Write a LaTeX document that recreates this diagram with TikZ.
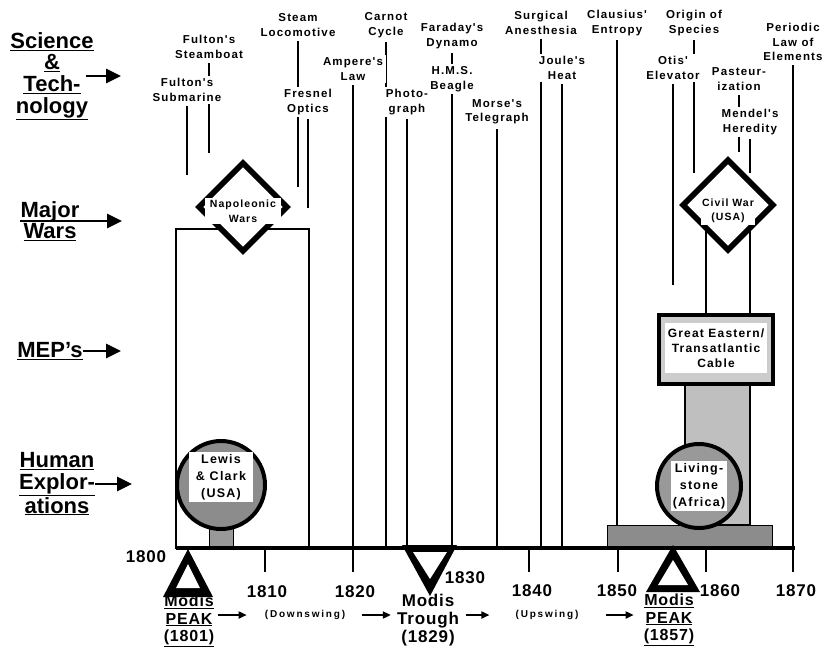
\documentclass[tikz,border=0pt]{standalone}
\usepackage{fontspec}
\setmainfont{Liberation Sans}
\newfontfamily\spfont{Liberation Sans}[LetterSpace=10]
\newfontfamily\yrfont{Liberation Sans}[LetterSpace=5]
\newfontfamily\swfont{Liberation Sans}[LetterSpace=18]
\usetikzlibrary{arrows.meta,backgrounds,shapes.geometric}

\begin{document}
\begin{tikzpicture}[x=1pt, y=-1pt,
		evt/.style={font=\spfont\bfseries\fontsize{11.5}{14.5}\selectfont, align=center, inner sep=2.5pt, fill=white},
		evtline/.style={line width=0.45mm, shorten <=2pt},
		cat/.style={font=\bfseries\fontsize{22}{21.7}\selectfont, align=center, inner sep=0pt},
		catarrow/.style={line width=1mm, -{Triangle[length=15pt,width=14pt]}},
		smarrow/.style={line width=0.6mm, -{Triangle[length=8pt,width=7pt]}},
		yr/.style={font=\yrfont\bfseries\fontsize{17}{17}\selectfont, inner sep=0pt},
		modis/.style={font=\yrfont\bfseries\fontsize{16}{17.5}\selectfont, align=center, inner sep=0pt},
		swing/.style={font=\swfont\bfseries\fontsize{10}{12}\selectfont, inner sep=0pt},
		intxt/.style={font=\spfont\bfseries\fontsize{12.5}{17}\selectfont, align=center, inner sep=2pt, fill=white},
		wartxt/.style={font=\spfont\bfseries\fontsize{10.5}{14.5}\selectfont, align=center, inner sep=1.5pt, fill=white},
		wardiam/.style={diamond, draw, fill=white, line width=2mm, minimum size=90pt, inner sep=0pt},
		yrtick/.style={line width=1mm}
	]
	%%%%% START %%%%%
	\useasboundingbox (0, 0) rectangle (827, 649);
	
	\coordinate (ax0) at (176, 548);
	\coordinate (ax1) at (795, 548);
	
	% events
	\node[evt] (fstb) at (209, 47) {Fulton's\\Steamboat};
	\node[evt] (fsub) at (187, 90) {Fulton's\\Submarine};
	\node[evt] (stml) at (298, 25) {Steam\\Locomotive};
	\node[evt] (fres) at (308, 102) {Fresnel\\Optics};
	\node[evt] (ampr) at (353, 69) {Ampere's\\Law};
	\node[evt] (crnt) at (386, 25) {Carnot\\Cycle};
	\node[evt] (phot) at (407, 102) {Photo-\\graph};
	\node[evt] (fara) at (452, 36) {Faraday's\\Dynamo};
	\node[evt] (bgle) at (452, 79) {H.M.S.\\Beagle};
	\node[evt] (mors) at (497, 112) {Morse's\\Telegraph};
	\node[evt] (surg) at (541, 23) {Surgical\\Anesthesia};
	\node[evt] (joul) at (562, 68) {Joule's\\Heat};
	\node[evt] (clau) at (617, 23) {Clausius'\\Entropy};
	\node[evt] (orig) at (694, 23) {Origin of\\Species};
	\node[evt] (otis) at (673, 68) {Otis'\\Elevator};
	\node[evt] (past) at (739, 79) {Pasteur-\\ization};
	\node[evt] (mend) at (750, 122) {Mendel's\\Heredity};
	\node[evt] (perd) at (793, 42) {Periodic\\Law of\\Elements};
	
	\coordinate (fsubE) at (187, 175);
	\coordinate (fstbE) at (209, 153);
	\coordinate (stmlE) at (298, 187);
	\coordinate (fresE) at (308, 208);
	\coordinate (origE) at (694, 173);
	\coordinate (otisE) at (673, 285);
	\coordinate (pastE) at (739, 152);
	\coordinate (mendE) at (750, 173);
	
	\begin{scope}[on background layer]
		\draw[evtline] (fstb.south) -- (fstbE);
		\draw[evtline] (fsub.south) -- (fsubE);
		\draw[evtline] (stml.south) -- (stmlE);
		\draw[evtline] (fres.south) -- (fresE);
		\draw[evtline] (orig.south) -- (origE);
		\draw[evtline] (otis.south) -- (otisE);
		\draw[evtline] (past.south) -- (pastE);
		\draw[evtline] (mend.south) -- (mendE);
		\foreach \ev in {ampr, crnt, phot, fara, mors, surg, joul, clau, perd}
			\draw[evtline] (\ev.south) -- (\ev.south |- ax0);
	\end{scope}
	
	% wars and MEP's
	\draw[line width=0.7mm] (176, 229) rectangle (309, 548);
	\draw[line width=0.7mm] (706, 215) rectangle (750, 315);
	\draw[line width=0.6mm, fill=black!25] (685, 384) rectangle (750, 525);
	\draw[line width=0.3mm, fill=black!45] (607, 525) rectangle (772, 548);
	\draw[line width=0.3mm, fill=black!40] (209, 528) rectangle (233, 548);
	
	\node[draw, line width=1.6mm, fill=black!20, minimum width=114pt, minimum height=69pt] (gebox) at (716, 349.5) {};
	\node[intxt, font=\spfont\bfseries\fontsize{12}{15}\selectfont, minimum width=102pt, minimum height=50pt] (ge) at (716, 348) {Great Eastern/\\Transatlantic\\Cable};
	
	\node[wardiam] (napD) at (243, 207) {};
	\node[wartxt, minimum width=76pt] (nap) at (243, 211) {Napoleonic\\Wars};
	\node[wardiam, minimum size=92pt] (cwD) at (728, 205) {};
	\node[wartxt] (cw) at (728, 211) {Civil War\\(USA)};
	
	% explorations
	\node[draw, circle, line width=1.4mm, fill=black!45, minimum size=88pt] (lcC) at (221, 485) {};
	\node[intxt, minimum width=64pt] (lc) at (221, 477) {Lewis\\\& Clark\\(USA)};
	\node[draw, circle, line width=1.4mm, fill=black!40, minimum size=84pt] (lvC) at (699, 486) {};
	\node[intxt] (lv) at (lvC) {Living-\\stone\\(Africa)};
	
	% time axis
	\draw[line width=1.5mm] (ax0) -- (ax1);
	\foreach \x in {265, 353, 529, 618, 706, 793}
		\draw[yrtick] (\x, 548) -- (\x, 572);
	\foreach \x/\y/\yr in {146/557/1800, 267/592/1810, 355/592/1820, 465/578/1830, 532/591/1840, 617/591/1850, 720/591/1860, 796/591/1870}
		\node[yr] (y\yr) at (\x, \y) {\yr};
	
	% categories
	\node[cat] (sci) at (52, 76) {\underline{Science}\\\underline{\&}\\\underline{Tech-}\\\underline{nology}};
	\node[cat] (war) at (50, 221) {Major\\\underline{Wars}};
	\node[cat] (mep) at (50, 351) {\underline{MEP's}};
	\node[cat] (hum) at (57, 484) {\underline{Human}\\\underline{Explor-}\\\underline{ations}};
	\coordinate (sciE) at (121, 76);
	\coordinate (warE) at (122, 220);
	\coordinate (mepE) at (121, 352);
	\coordinate (humE) at (132, 483);
	\draw[catarrow] ([xshift=-8pt]sci.east) -- (sciE);
	\draw[catarrow] (war.west) -- (war.west -| warE);
	\draw[catarrow] (mep.east) -- (mep.east -| mepE);
	\draw[catarrow] (hum.east) -- (hum.east -| humE);
	
	% Modis cycle
	\node[modis] (pk1) at (189, 621) {\underline{Modis}\\\underline{PEAK}\\\underline{(1801)}};
	\node[modis, font=\yrfont\bfseries\fontsize{17}{18}\selectfont] (trgh) at (428, 620) {Modis\\Trough\\(1829)};
	\node[modis] (pk2) at (669, 620) {\underline{Modis}\\\underline{PEAK}\\\underline{(1857)}};
	\node[swing] (dsw) at (305, 615) {(Downswing)};
	\node[swing] (usw) at (547, 615) {(Upswing)};
	\draw[smarrow, shorten <=4pt, shorten >=18pt] (pk1.east |- dsw.west) -- (dsw.west);
	\draw[smarrow, shorten <=17pt, shorten >=6pt] (dsw.east) -- (dsw.east -| trgh.west);
	\draw[smarrow, shorten <=7pt, shorten >=26pt] (trgh.east |- usw.west) -- (usw.west);
	\draw[smarrow, shorten <=27pt, shorten >=10pt] (usw.east) -- (usw.east -| pk2.west);
	
	\fill (188, 549) -- (213, 597) -- (163, 597) -- cycle;
	\fill[white] (188, 564) -- (200, 588) -- (176, 588) -- cycle;
	\fill (402, 545) -- (457, 545) -- (430, 596) -- cycle;
	\fill[white] (413, 552) -- (447, 552) -- (430, 579) -- cycle;
	\fill (673, 545) -- (700, 592) -- (646, 592) -- cycle;
	\fill[white] (673, 560) -- (688, 585) -- (658, 585) -- cycle;
	
	%%%%% END %%%%%
\end{tikzpicture}
\end{document}
